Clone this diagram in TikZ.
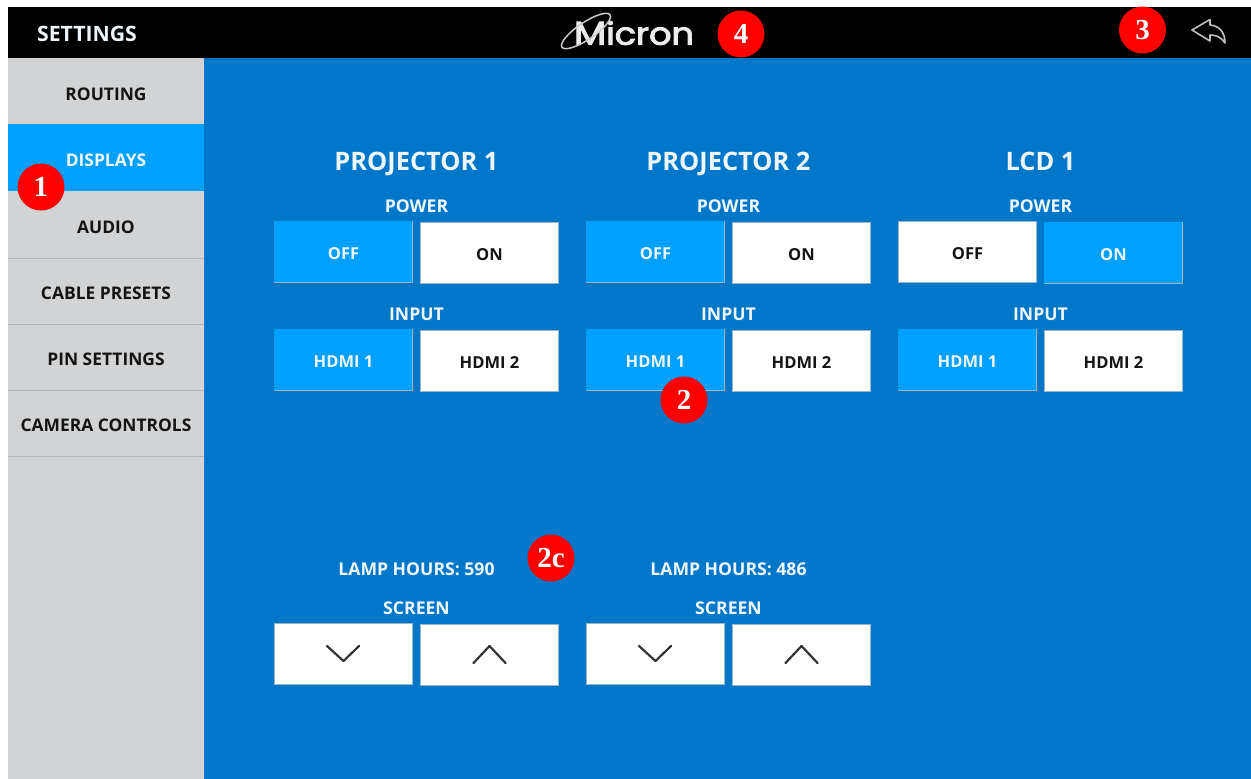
\documentclass[tikz,border=0pt]{standalone}
\usepackage{fontspec}
\setmainfont{Open Sans}
\newfontfamily\badgefont{Liberation Serif}
\newfontfamily\logofont[FakeBold=3]{Poppins}
\definecolor{panelblue}{HTML}{0077C8}
\definecolor{lightblue}{HTML}{00A0FF}
\definecolor{sidegray}{HTML}{D1D3D4}
\definecolor{sepgray}{HTML}{B4B6B8}
\definecolor{inkblack}{HTML}{141414}
\definecolor{edgegray}{HTML}{9DB4C6}
\definecolor{chev}{HTML}{333333}
\definecolor{wtext}{HTML}{EEF6FC}
\tikzset{
  x=1pt,y=-1pt,
  btn/.style={minimum width=138.5pt,minimum height=61.5pt,inner sep=0pt,text height=15pt,text depth=0pt,font=\fontsize{16.5}{17}\bfseries},
  btnon/.style={btn,fill=lightblue,text=wtext,path picture={\draw[edgegray,line width=1.2pt] (path picture bounding box.north east) -- (path picture bounding box.south east) -- (path picture bounding box.south west);}},
  btnoff/.style={btn,fill=white,text=inkblack,draw=edgegray,line width=.6pt},
  sideitem/.style={inner sep=0pt,font=\fontsize{17.4}{18}\bfseries,text=inkblack},
  sideactive/.style={sideitem,text=wtext},
  devtitle/.style={inner sep=0pt,text=wtext,text height=18.2pt,text depth=0pt,font=\fontsize{25.4}{26}\bfseries},
  grouplabel/.style={inner sep=0pt,text=wtext,font=\fontsize{17.6}{18}\bfseries},
  badge/.style={circle,fill=red,text=white,minimum size=47pt,inner sep=0pt,font=\fontsize{29}{29}\badgefont\bfseries},
  chevron/.style={draw=chev,line width=2.2pt,line cap=round,line join=round},
}
\begin{document}
\begin{tikzpicture}
\useasboundingbox (0,0) rectangle (1251,779);
\fill[white] (0,0) rectangle (1251,779);
\fill[panelblue] (204,58) rectangle (1251,779);
\fill[sidegray] (8,58) rectangle (204,779);
\fill[black] (8,7) rectangle (1251,58);
% sidebar
\fill[lightblue] (8,124) rectangle (204,191);
\foreach \yy in {258,324,390,456}{\draw[sepgray,line width=.8pt] (8,\yy) -- (204,\yy);}
\node[sideitem] (routing) at (106,94) {ROUTING};
\node[sideactive] (displays) at (106,160.5) {DISPLAYS};
\node[sideitem] (audio) at (106,227) {AUDIO};
\node[sideitem] (cable) at (106,293) {CABLE PRESETS};
\node[sideitem] (pin) at (106,359) {PIN SETTINGS};
\node[sideitem] (camera) at (106,425) {CAMERA CONTROLS};
% header
\node[inner sep=0pt,text=wtext,font=\fontsize{21.2}{22}\bfseries] (settings) at (87,34) {SETTINGS};
\node[inner sep=0pt,text=white!92!black,font=\logofont,transform shape,xscale=1.13] (logo) at (634,33) {\fontsize{33}{33}\selectfont M\fontsize{31}{31}\selectfont icron};
\draw[white!80!black,line width=1.5pt,rotate around={34:(586,31)}] (586,31) ellipse (29 and 8.5);
\draw[draw=white!75!black,line width=1.6pt,line join=round,line cap=round]
  (1192,30) -- (1210,19.5) -- (1210,25) .. controls (1220,26) and (1225,33) .. (1225,43)
  .. controls (1221,37) and (1216,35) .. (1210,35) -- (1210,41) -- cycle;
% column 1
\node[devtitle] (t1) at (416.5,161) {PROJECTOR 1};
\node[grouplabel] (p1) at (416.5,206) {POWER};
\node[btnon] (p1off) at (343.5,252) {OFF};
\node[btnoff] (p1on) at (489.5,253) {ON};
\node[grouplabel] (i1) at (416.5,314) {INPUT};
\node[btnon] (i1a) at (343.5,360) {HDMI 1};
\node[btnoff] (i1b) at (489.5,361) {HDMI 2};
\node[grouplabel] (l1) at (416.5,569.5) {LAMP HOURS: 590};
\node[grouplabel] (s1) at (416.5,608) {SCREEN};
\node[btnoff] (s1d) at (343.5,654) {};
\node[btnoff] (s1u) at (489.5,655) {};
\draw[chevron] (327,646) -- (343.5,661) -- (359,646);
\draw[chevron] (473.5,663) -- (489.5,646) -- (505.5,663);
% column 2
\node[devtitle] (t2) at (728.5,161) {PROJECTOR 2};
\node[grouplabel] (p2) at (728.5,206) {POWER};
\node[btnon] (p2off) at (655.5,252) {OFF};
\node[btnoff] (p2on) at (801.5,253) {ON};
\node[grouplabel] (i2) at (728.5,314) {INPUT};
\node[btnon] (i2a) at (655.5,360) {HDMI 1};
\node[btnoff] (i2b) at (801.5,361) {HDMI 2};
\node[grouplabel] (l2) at (728.5,569.5) {LAMP HOURS: 486};
\node[grouplabel] (s2) at (728.5,608) {SCREEN};
\node[btnoff] (s2d) at (655.5,654) {};
\node[btnoff] (s2u) at (801.5,655) {};
\draw[chevron] (639,646) -- (655.5,661) -- (671,646);
\draw[chevron] (785.5,663) -- (801.5,646) -- (817.5,663);
% column 3
\node[devtitle] (t3) at (1040.5,161) {LCD 1};
\node[grouplabel] (p3) at (1040.5,206) {POWER};
\node[btnoff] (p3off) at (967.5,252) {OFF};
\node[btnon] (p3on) at (1113.5,253) {ON};
\node[grouplabel] (i3) at (1040.5,314) {INPUT};
\node[btnon] (i3a) at (967.5,360) {HDMI 1};
\node[btnoff] (i3b) at (1113.5,361) {HDMI 2};
% badges
\node[badge] (b1) at (41,187) {1};
\node[badge] (b2) at (684,400) {2};
\node[badge] (b2c) at (551,558) {2c};
\node[badge] (b3) at (1142.5,30) {3};
\node[badge] (b4) at (741,34) {4};
\end{tikzpicture}
\end{document}
